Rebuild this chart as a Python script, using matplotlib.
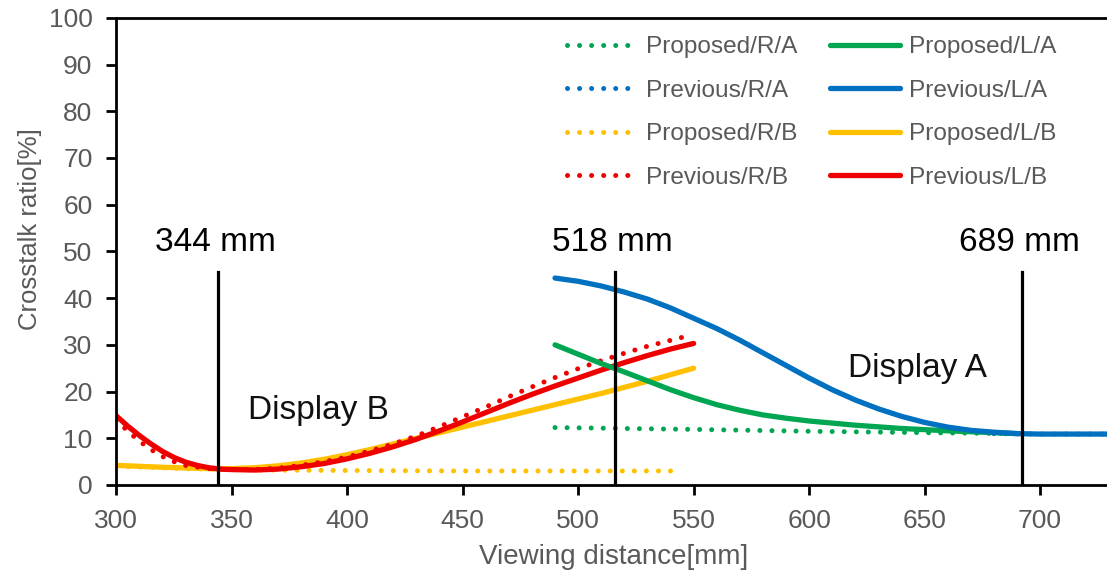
import matplotlib.pyplot as plt

plt.rcParams['font.family'] = ['Liberation Sans', 'DejaVu Sans']

# colours of the series
GREEN = '#00A651'
BLUE = '#0070C0'
YELLOW = '#FFC000'
RED = '#EE0000'

# Display A curves
prop_LA_x = [490, 500, 510, 520, 530, 540, 550, 560, 570, 580, 590, 600, 620, 640, 660, 680, 690]
prop_LA_y = [30.0, 28.0, 26.0, 24.2, 22.3, 20.4, 18.7, 17.2, 16.0, 15.0, 14.3, 13.7, 12.8, 12.1, 11.6, 11.2, 11.0]
prop_RA_x = [490, 550, 600, 650, 690]
prop_RA_y = [12.3, 11.9, 11.5, 11.2, 11.0]
prev_LA_x = [490, 500, 510, 520, 530, 540, 550, 560, 570, 580, 590, 600, 610, 620, 630, 640,
             650, 660, 670, 680, 690, 700, 730]
prev_LA_y = [44.3, 43.6, 42.6, 41.3, 39.8, 37.9, 35.7, 33.5, 31.0, 28.3, 25.6, 22.9, 20.4, 18.2,
             16.3, 14.7, 13.4, 12.4, 11.7, 11.3, 11.0, 10.9, 10.9]
prev_RA_x = [680, 700, 730]
prev_RA_y = [11.0, 10.9, 10.9]

# Display B curves
prop_LB_x = [300, 320, 340, 350, 360, 370, 380, 390, 400, 410, 420, 430, 440, 450, 460, 470,
             480, 490, 500, 510, 520, 530, 540, 550]
prop_LB_y = [4.2, 3.8, 3.5, 3.5, 3.7, 4.1, 4.7, 5.5, 6.5, 7.6, 8.8, 10.0, 11.2, 12.4, 13.6, 14.8,
             16.0, 17.2, 18.4, 19.6, 20.9, 22.2, 23.6, 25.0]
prop_RB_x = [300, 330, 360, 400, 450, 500, 545]
prop_RB_y = [4.0, 3.5, 3.2, 3.1, 3.0, 3.0, 3.0]
prev_LB_x = [300, 305, 310, 315, 320, 325, 330, 335, 340, 345, 350, 360, 370, 380, 390, 400,
             410, 420, 430, 440, 450, 460, 470, 480, 490, 500, 510, 520, 530, 540, 550]
prev_LB_y = [14.8, 12.6, 10.6, 8.8, 7.2, 5.9, 4.9, 4.2, 3.7, 3.4, 3.3, 3.2, 3.4, 3.9, 4.6, 5.6,
             6.8, 8.2, 9.8, 11.6, 13.5, 15.5, 17.5, 19.4, 21.2, 22.9, 24.6, 26.2, 27.7, 29.1, 30.3]
prev_RB_x = [300, 305, 310, 315, 320, 325, 330, 340, 350, 360, 370, 380, 390, 400, 410, 420,
             430, 440, 450, 460, 470, 480, 490, 500, 510, 520, 530, 545]
prev_RB_y = [14.0, 11.5, 9.4, 7.6, 6.1, 5.0, 4.2, 3.5, 3.3, 3.3, 3.6, 4.2, 5.0, 6.0, 7.3, 8.8,
             10.5, 12.5, 14.6, 16.7, 18.9, 21.0, 23.0, 24.9, 26.6, 28.2, 29.7, 31.6]

# marker lines
mark_x = [344, 516, 692]
mark_labels = ['344 mm', '518 mm', '689 mm']

fig, ax = plt.subplots(figsize=(11.07, 5.76), dpi=100)
fig.subplots_adjust(left=0.105, right=1.0, top=0.969, bottom=0.158)

dot = dict(lw=3.6, linestyle=(0, (0.01, 2.4)), dash_capstyle='round')
sol = dict(lw=3.8, solid_capstyle='round')

h_pra, = ax.plot(prev_RA_x, prev_RA_y, color=BLUE, label='Previous/R/A', **dot)
h_prb, = ax.plot(prop_RB_x, prop_RB_y, color=YELLOW, label='Proposed/R/B', **dot)
h_ra, = ax.plot(prop_RA_x, prop_RA_y, color=GREEN, label='Proposed/R/A', **dot)
h_lb, = ax.plot(prop_LB_x, prop_LB_y, color=YELLOW, label='Proposed/L/B', **sol)
h_vrb, = ax.plot(prev_RB_x, prev_RB_y, color=RED, label='Previous/R/B', **dot)
h_vlb, = ax.plot(prev_LB_x, prev_LB_y, color=RED, label='Previous/L/B', **sol)
h_la, = ax.plot(prop_LA_x, prop_LA_y, color=GREEN, label='Proposed/L/A', **sol)
h_pla, = ax.plot(prev_LA_x, prev_LA_y, color=BLUE, label='Previous/L/A', **sol)

for xv, lab in zip(mark_x, mark_labels):
    ax.plot([xv, xv], [0, 45.6], color='black', lw=2.3)
    ax.text(xv - 1, 52, lab, fontsize=24, ha='center', va='center', color='black')

ax.text(357, 16, 'Display B', fontsize=24, ha='left', va='center', color='#111111')
ax.text(617, 25, 'Display A', fontsize=24, ha='left', va='center', color='#111111')

ax.set_xlim(300, 729)
ax.set_ylim(0, 100)
ax.set_xticks(range(300, 701, 50))
ax.set_yticks(range(0, 101, 10))
ax.tick_params(labelsize=19, labelcolor='#595959', color='black', width=2, length=7, pad=10)
ax.set_xlabel('Viewing distance[mm]', fontsize=20, color='#595959')
ax.set_ylabel('Crosstalk ratio[%]', fontsize=18.5, color='#595959')
ax.xaxis.set_label_coords(0.502, -0.126)
ax.yaxis.set_label_coords(-0.075, 0.548)
for side in ['left', 'bottom', 'top']:
    ax.spines[side].set_linewidth(2)
    ax.spines[side].set_color('black')
ax.spines['right'].set_visible(False)

handles = [h_ra, h_pra, h_prb, h_vrb, h_la, h_pla, h_lb, h_vlb]
fig.legend(handles=handles, labels=[h.get_label() for h in handles], ncol=2,
           loc='upper left', bbox_to_anchor=(567 / 1107, 1 - 36 / 576), frameon=False,
           borderpad=0, borderaxespad=0,
           fontsize=17.6, handlelength=2.9, handletextpad=0.35, columnspacing=1.3,
           labelspacing=0.88, labelcolor='#595959')

plt.savefig('out.png')
